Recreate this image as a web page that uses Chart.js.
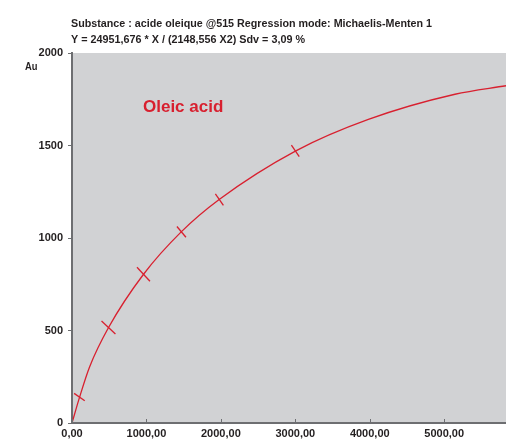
<!DOCTYPE html>
<html>
<head>
<meta charset="utf-8">
<script src="https://cdn.jsdelivr.net/npm/chart.js@4.4.1/dist/chart.umd.min.js"></script>
<style>
  body { margin: 0; background: #fff; }
  #wrap { width: 506px; height: 445px; }
</style>
</head>
<body>
<div id="wrap"><canvas id="mmchart"></canvas></div>
<script>
// fitted curve
const curveX = [0, 102, 236, 491, 961, 1467, 1977, 3007, 3981, 5145, 5830];
const curveY = [0, 140, 303, 516, 804, 1033, 1208, 1471, 1641, 1777, 1823];
// measured standards
const pointX = [100, 490, 960, 1470, 1980, 3000];
const pointY = [140, 516, 804, 1033, 1208, 1471];
const yTicks = [0, 500, 1000, 1500, 2000];
const xTicks = [0, 1000, 2000, 3000, 4000, 5000];

const titleLine1 = "Substance : acide oleique @515 Regression mode: Michaelis-Menten 1";
const titleLine2 = "Y = 24951,676 * X / (2148,556 X2) Sdv = 3,09 %";
const seriesName = "Oleic acid";
const yUnit = "Au";

const red = "#d8202f";
const axisGrey = "#6d6e71";
const font = "'Liberation Sans', Arial, Helvetica, sans-serif";

const curve = curveX.map((x, i) => ({x: x, y: curveY[i]}));
const points = pointX.map((x, i) => ({x: x, y: pointY[i]}));

const decor = {
    id: "decor",
    beforeDraw(chart) {
        const {ctx, chartArea} = chart;
        ctx.save();
        ctx.fillStyle = "#d1d2d4";
        ctx.fillRect(chartArea.left, chartArea.top, chartArea.right - chartArea.left, chartArea.bottom - chartArea.top);
        ctx.restore();
    },
    afterDraw(chart) {
        const {ctx, chartArea} = chart;
        const xs = chart.scales.x;
        ctx.save();
        // little ticks inside the x axis
        ctx.strokeStyle = axisGrey;
        ctx.lineWidth = 1;
        xTicks.forEach(v => {
            const px = Math.round(xs.getPixelForValue(v)) + 0.5;
            ctx.beginPath();
            ctx.moveTo(px, chartArea.bottom);
            ctx.lineTo(px, chartArea.bottom - 4);
            ctx.stroke();
        });
        ctx.fillStyle = "#231f20";
        ctx.textAlign = "left";
        ctx.textBaseline = "alphabetic";
        ctx.font = "bold 11px " + font;
        ctx.fillText(titleLine1, 71, 27, 361);
        ctx.fillText(titleLine2, 71, 42.5, 234);
        ctx.font = "bold 10px " + font;
        ctx.fillText(yUnit, 25, 70, 12.5);
        ctx.fillStyle = red;
        ctx.font = "bold 17px " + font;
        ctx.fillText(seriesName, 143, 112, 89);
        ctx.restore();
    }
};

new Chart(document.getElementById("mmchart"), {
    type: "line",
    data: {
        datasets: [
            {
                data: curve,
                borderColor: red,
                borderWidth: 1.3,
                pointRadius: 0,
                cubicInterpolationMode: "monotone",
                fill: false
            },
            {
                data: points,
                showLine: false,
                borderColor: red,
                backgroundColor: red,
                borderWidth: 1.3,
                pointStyle: "line",
                pointRadius: [6.5, 9.5, 9.5, 7, 7, 7],
                rotation: [35, 43, 47, 50, 55, 56],
                pointHoverRadius: 0
            }
        ]
    },
    plugins: [decor],
    options: {
        responsive: true,
        maintainAspectRatio: false,
        animation: false,
        events: [],
        layout: {autoPadding: false, padding: {top: 53, left: 0, right: 0, bottom: 0}},
        plugins: {legend: {display: false}, tooltip: {enabled: false}},
        scales: {
            x: {
                type: "linear",
                min: 0,
                max: 5830,
                afterBuildTicks: s => { s.ticks = xTicks.map(v => ({value: v})); },
                afterFit: s => { s.height = 22; s.paddingLeft = 0; s.paddingRight = 0; },
                grid: {drawOnChartArea: false, drawTicks: false},
                border: {color: axisGrey, width: 2},
                ticks: {
                    padding: 4,
                    color: "#231f20",
                    font: {family: font, size: 11, weight: "bold"},
                    maxRotation: 0,
                    callback: v => v.toFixed(2).replace(".", ",")
                }
            },
            y: {
                min: 0,
                max: 2000,
                afterBuildTicks: s => { s.ticks = yTicks.map(v => ({value: v})); },
                afterFit: s => { s.width = 72; s.paddingTop = 0; s.paddingBottom = 0; },
                grid: {drawOnChartArea: false, tickLength: 4, color: axisGrey},
                border: {color: axisGrey, width: 2},
                ticks: {
                    padding: 5,
                    color: "#231f20",
                    font: {family: font, size: 11, weight: "bold"},
                    callback: v => String(v)
                }
            }
        }
    }
});
</script>
</body>
</html>
